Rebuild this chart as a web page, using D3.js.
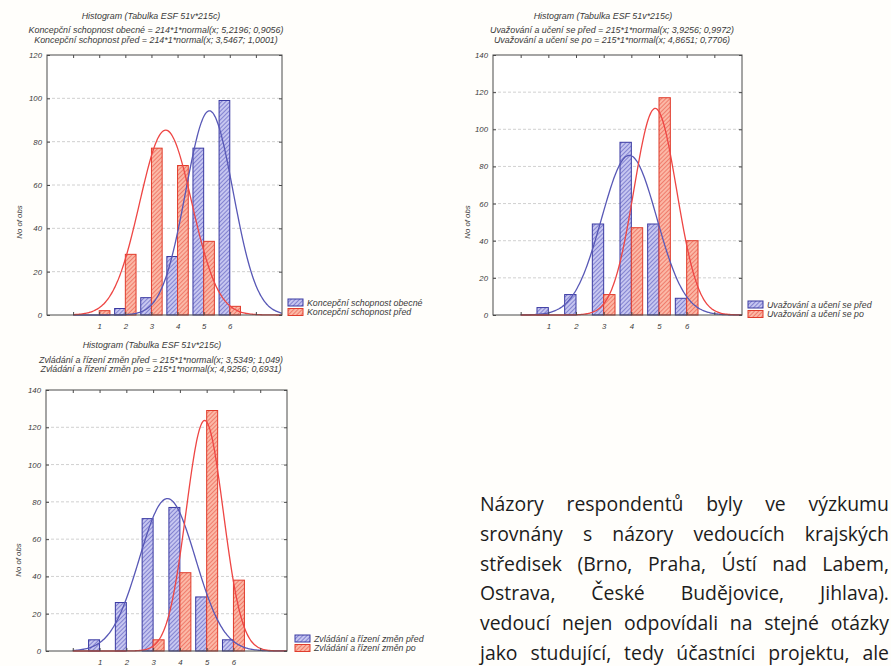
<!DOCTYPE html>
<html><head><meta charset="utf-8">
<script src="https://cdn.jsdelivr.net/npm/d3@7/dist/d3.min.js"></script>
<style>
html,body{margin:0;padding:0;background:#fffefb;width:891px;height:666px;overflow:hidden;}
svg{position:absolute;left:0;top:0;}
#para{position:absolute;left:480px;top:0;width:409px;font-family:"Open Sans",sans-serif;font-size:19.4px;color:#1c1c1c;}
#para .ln{position:absolute;left:0;width:409px;display:flex;justify-content:space-between;white-space:nowrap;line-height:22px;}
</style></head>
<body>
<svg id="chart" width="891" height="666"></svg>
<div id="para"></div>
<script>
// ---------- data ----------
const categories = [1, 2, 3, 4, 5, 6];
const xTickValues = [0, 1, 2, 3, 4, 5, 6, 7];
const histTitle = "Histogram (Tabulka ESF 51v*215c)";
const yAxisTitle = "No of obs";

const p1Names = ["Koncepční schopnost obecné", "Koncepční schopnost před"];
const p1First = [0, 3, 8, 27, 77, 99];
const p1Second = [2, 28, 77, 69, 34, 4];
const p1N = [214, 214];
const p1Mean = [5.2196, 3.5467];
const p1Sd = [0.9056, 1.0001];
const p1YTicks = [0, 20, 40, 60, 80, 100, 120];

const p2Names = ["Uvažování a učení se před", "Uvažování a učení se po"];
const p2First = [4, 11, 49, 93, 49, 9];
const p2Second = [0, 0, 11, 47, 117, 40];
const p2N = [215, 215];
const p2Mean = [3.9256, 4.8651];
const p2Sd = [0.9972, 0.7706];
const p2YTicks = [0, 20, 40, 60, 80, 100, 120, 140];

const p3Names = ["Zvládání a řízení změn před", "Zvládání a řízení změn po"];
const p3First = [6, 26, 71, 77, 29, 6];
const p3Second = [0, 0, 6, 42, 129, 38];
const p3N = [215, 215];
const p3Mean = [3.5349, 4.9256];
const p3Sd = [1.049, 0.6931];
const p3YTicks = [0, 20, 40, 60, 80, 100, 120, 140];

const paragraphLines = [
  "Názory respondentů byly ve výzkumu",
  "srovnány s názory vedoucích krajských",
  "středisek (Brno, Praha, Ústí nad Labem,",
  "Ostrava, České Budějovice, Jihlava).",
  "vedoucí nejen odpovídali na stejné otázky",
  "jako studující, tedy účastníci projektu, ale"
];

// ---------- layout ----------
const panels = [
  {names:p1Names, first:p1First, second:p1Second, n:p1N, mean:p1Mean, sd:p1Sd, yTicks:p1YTicks,
   x0:47, x1:282, y0:55, y1:315, titleCx:151, linesCx:156, tY:[18.5,33,42.5], legX:288, legY:299, ylX:22, ylY:222},
  {names:p2Names, first:p2First, second:p2Second, n:p2N, mean:p2Mean, sd:p2Sd, yTicks:p2YTicks,
   x0:493, x1:742, y0:55, y1:315, titleCx:603, linesCx:612, tY:[18.5,33,42.5], legX:748, legY:301, ylX:470, ylY:222},
  {names:p3Names, first:p3First, second:p3Second, n:p3N, mean:p3Mean, sd:p3Sd, yTicks:p3YTicks,
   x0:46, x1:287, y0:390, y1:651, titleCx:152, linesCx:161, tY:[348,362.5,372], legX:295, legY:635, ylX:21, ylY:560}
];

const svg = d3.select("#chart");
const defs = svg.append("defs");
function hatch(id, bg, line){
  const p = defs.append("pattern").attr("id", id).attr("patternUnits","userSpaceOnUse")
    .attr("width", 3).attr("height", 3).attr("patternTransform","rotate(45)");
  p.append("rect").attr("width",3).attr("height",3).attr("fill",bg);
  p.append("line").attr("x1",0).attr("y1",0).attr("x2",0).attr("y2",3)
    .attr("stroke",line).attr("stroke-width",1.2);
}
hatch("hBlue", "#c6c6f0", "#5656bc");
hatch("hRed", "#fbb8a6", "#e95444");
const cBlue = {fill:"url(#hBlue)", stroke:"#3a3aa2", curve:"#5858b6"};
const cRed = {fill:"url(#hRed)", stroke:"#e03c2c", curve:"#ee4644"};

const font = "'Liberation Sans', Arial, sans-serif";
const fmt = v => String(v).replace(".", ",");

function normalPdf(x, m, s){ return Math.exp(-0.5*((x-m)/s)**2)/(s*Math.sqrt(2*Math.PI)); }

panels.forEach(P => {
  const g = svg.append("g");
  const x = d3.scaleLinear().domain([-1, 8]).range([P.x0, P.x1]);
  const y = d3.scaleLinear().domain([0, d3.max(P.yTicks)]).range([P.y1, P.y0]);
  const ys = [P.first, P.second];
  const styles = [cBlue, cRed];

  g.append("rect").attr("x",P.x0).attr("y",P.y0).attr("width",P.x1-P.x0).attr("height",P.y1-P.y0).attr("fill","#fff");

  g.selectAll(".grid").data(P.yTicks.slice(1, -1)).join("line")
    .attr("x1",P.x0).attr("x2",P.x1).attr("y1",d=>y(d)).attr("y2",d=>y(d))
    .attr("stroke","#c4c4c4").attr("stroke-width",0.8).attr("stroke-dasharray","3,2");

  const bw = 0.41;
  ys.forEach((vals, si) => {
    g.selectAll(".bar"+si).data(categories.map((c,i)=>({c, v:vals[i]})).filter(d=>d.v>0)).join("rect")
      .attr("x", d => si===0 ? x(d.c - bw) : x(d.c))
      .attr("width", x(bw) - x(0))
      .attr("y", d => y(d.v))
      .attr("height", d => y(0) - y(d.v))
      .attr("fill", styles[si].fill).attr("stroke", styles[si].stroke).attr("stroke-width",1);
  });

  // fitted normal curves, from the parameters printed in each chart's heading
  const xs = d3.range(0, 8.001, 0.05);
  [0,1].forEach(si => {
    const line = d3.line().x(d=>x(d)).y(d=>y(P.n[si]*normalPdf(d, P.mean[si], P.sd[si]))).curve(d3.curveBasis);
    g.append("path").datum(xs).attr("d", line).attr("fill","none")
      .attr("stroke", styles[si].curve).attr("stroke-width",1.3);
  });

  g.append("rect").attr("x",P.x0).attr("y",P.y0).attr("width",P.x1-P.x0).attr("height",P.y1-P.y0)
    .attr("fill","none").attr("stroke","#4a4a4a").attr("stroke-width",1);

  const bottom = g.append("g").attr("transform",`translate(0,${P.y1})`)
    .call(d3.axisBottom(x).tickValues(xTickValues).tickSizeInner(-3).tickSizeOuter(0).tickPadding(8)
      .tickFormat(d => categories.includes(d) ? d : ""));
  const top = g.append("g").attr("transform",`translate(0,${P.y0})`)
    .call(d3.axisTop(x).tickValues(xTickValues).tickSizeInner(-3).tickSizeOuter(0).tickFormat(""));
  const left = g.append("g").attr("transform",`translate(${P.x0},0)`)
    .call(d3.axisLeft(y).tickValues(P.yTicks).tickSizeInner(-3).tickSizeOuter(0).tickPadding(5));
  const right = g.append("g").attr("transform",`translate(${P.x1},0)`)
    .call(d3.axisRight(y).tickValues(P.yTicks).tickSizeInner(-3).tickSizeOuter(0).tickFormat(""));
  [bottom, top, left, right].forEach(a => {
    a.select(".domain").remove();
    a.selectAll(".tick line").attr("stroke","#4a4a4a");
    a.selectAll("text").attr("font-family",font).attr("font-style","italic").attr("font-size","7.8px").attr("fill","#3a3a3a");
  });

  g.append("text").attr("transform",`translate(${P.ylX},${P.ylY}) rotate(-90)`)
    .attr("text-anchor","middle").attr("font-family",font).attr("font-style","italic")
    .attr("font-size","7.8px").attr("fill","#3a3a3a").text(yAxisTitle);

  const tlines = [histTitle,
    `${P.names[0]} = ${P.n[0]}*1*normal(x; ${fmt(P.mean[0])}; ${fmt(P.sd[0])})`,
    `${P.names[1]} = ${P.n[1]}*1*normal(x; ${fmt(P.mean[1])}; ${fmt(P.sd[1])})`];
  tlines.forEach((t,i) => {
    g.append("text").attr("x", i===0 ? P.titleCx : P.linesCx).attr("y", P.tY[i])
      .attr("text-anchor","middle").attr("font-family",font).attr("font-style","italic")
      .attr("font-size","8.9px").attr("fill","#3a3a3a").text(t);
  });

  [0,1].forEach(si => {
    const ly = P.legY + si*9.5;
    g.append("rect").attr("x",P.legX).attr("y",ly).attr("width",15).attr("height",7)
      .attr("fill",styles[si].fill).attr("stroke",styles[si].stroke).attr("stroke-width",1);
    g.append("text").attr("x",P.legX+19).attr("y",ly+6.8)
      .attr("font-family",font).attr("font-style","italic").attr("font-size","8.8px").attr("fill","#3a3a3a")
      .text(P.names[si]);
  });
});

// paragraph text (justified lines)
const baselines0 = 509, lineStep = 29.8;
const para = d3.select("#para");
paragraphLines.forEach((ln, i) => {
  const div = para.append("div").attr("class","ln").style("top", (baselines0 + i*lineStep - 16) + "px");
  ln.split(" ").forEach(w => div.append("span").text(w));
  const node = div.node();
  let natural = 0; div.selectAll("span").each(function(){ natural += this.getBoundingClientRect().width; });
  const minGap = 4 * (ln.split(" ").length - 1);
  if (natural + minGap > 409) div.style("font-size", (19.4 * (409 - minGap) / natural) + "px");
});
</script>
</body></html>
